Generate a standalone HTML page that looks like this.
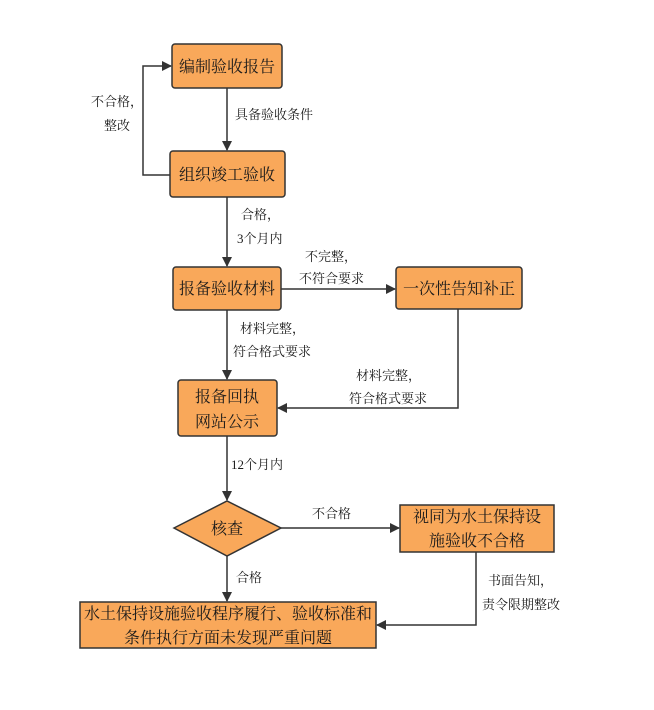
<!DOCTYPE html>
<html><head><meta charset="utf-8"><style>
html,body{margin:0;padding:0;background:#fff;}
svg text{font-family:"Liberation Serif","Noto Serif CJK SC",serif;fill:#1a1a1a;}
.b{font-size:16px;}
.l{font-size:13px;}
</style></head><body>
<svg width="654" height="705" viewBox="0 0 654 705" xmlns="http://www.w3.org/2000/svg">
<defs><marker id="a" markerWidth="10" markerHeight="10" refX="9" refY="5" orient="auto" markerUnits="userSpaceOnUse"><path d="M0,0 L10,5 L0,10 z" fill="#333"/></marker></defs>
<g fill="#F9A85A" stroke="#333" stroke-width="1.5">
<rect x="172" y="44" width="110" height="44" rx="3"/>
<rect x="170" y="151" width="115" height="46" rx="3"/>
<rect x="173" y="267" width="108" height="43" rx="3"/>
<rect x="396" y="267" width="126" height="42" rx="3"/>
<rect x="178" y="380" width="99" height="56" rx="3"/>
<polygon points="174,528 227,501 281,528 227,556"/>
<rect x="400" y="505" width="154" height="47"/>
<rect x="80" y="602" width="296" height="46"/>
</g>
<g stroke="#333" stroke-width="1.5" fill="none">
<line x1="227" y1="88" x2="227" y2="150" marker-end="url(#a)"/>
<polyline points="170,175 143,175 143,66 171,66" marker-end="url(#a)"/>
<line x1="227" y1="197" x2="227" y2="266" marker-end="url(#a)"/>
<line x1="281" y1="289" x2="395" y2="289" marker-end="url(#a)"/>
<line x1="227" y1="310" x2="227" y2="379" marker-end="url(#a)"/>
<polyline points="458,309 458,408 278,408" marker-end="url(#a)"/>
<line x1="227" y1="436" x2="227" y2="500" marker-end="url(#a)"/>
<line x1="281" y1="528" x2="399" y2="528" marker-end="url(#a)"/>
<line x1="227" y1="556" x2="227" y2="601" marker-end="url(#a)"/>
<polyline points="476,552 476,625 377,625" marker-end="url(#a)"/>
</g>
<g class="b" text-anchor="middle">
<text x="227" y="72">编制验收报告</text>
<text x="227" y="180">组织竣工验收</text>
<text x="227" y="294">报备验收材料</text>
<text x="459" y="294">一次性告知补正</text>
<text x="227" y="402">报备回执</text>
<text x="227" y="427">网站公示</text>
<text x="227" y="534">核查</text>
<text x="477" y="522">视同为水土保持设</text>
<text x="477" y="546">施验收不合格</text>
<text x="228" y="619">水土保持设施验收程序履行、验收标准和</text>
<text x="228" y="643">条件执行方面未发现严重问题</text>
</g>
<g class="l">
<text x="235" y="119">具备验收条件</text>
<text x="91" y="106">不合格，</text>
<text x="104" y="130">整改</text>
<text x="241" y="219">合格，</text>
<text x="237" y="243">3个月内</text>
<text x="305" y="261">不完整，</text>
<text x="299" y="283">不符合要求</text>
<text x="240" y="333">材料完整，</text>
<text x="233" y="356">符合格式要求</text>
<text x="356" y="380">材料完整，</text>
<text x="349" y="403">符合格式要求</text>
<text x="231" y="469">12个月内</text>
<text x="312" y="518">不合格</text>
<text x="236" y="582">合格</text>
<text x="488" y="585">书面告知，</text>
<text x="482" y="609">责令限期整改</text>
</g>
</svg>
</body></html>
